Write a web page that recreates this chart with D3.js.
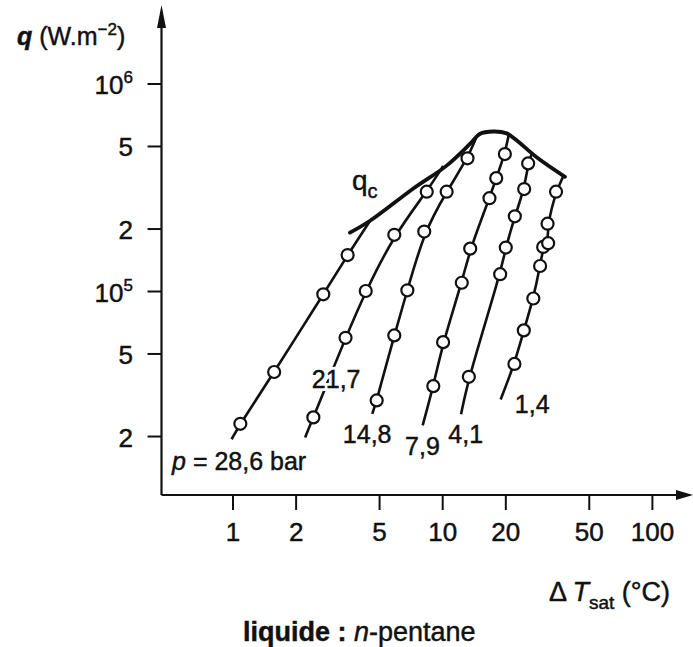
<!DOCTYPE html>
<html>
<head>
<meta charset="utf-8">
<script src="https://cdn.jsdelivr.net/npm/d3@7"></script>
<style>
  html, body { margin: 0; padding: 0; background: #fff; }
  svg { display: block; font-family: "Liberation Sans", Arial, Helvetica, sans-serif; }
  .ink-text { stroke: #111; stroke-width: 0.45px; }
</style>
</head>
<body>
<svg id="chart" width="693" height="647"></svg>
<script>
// ---------------- data ----------------
const xTickValues = [1, 2, 5, 10, 20, 50, 100];
const xTickLabels = ["1", "2", "5", "10", "20", "50", "100"];
const yTickValues = [2e4, 5e4, 1e5, 2e5, 5e5, 1e6];
const yTickMantissa = ["2", "5", "10", "2", "5", "10"];
const yTickExponent = ["", "", "5", "", "", "6"];

const pressureLabels = ["p = 28,6 bar", "21,7", "14,8", "7,9", "4,1", "1,4"];

// measured points (ΔT_sat in °C, q in W/m²)
const dT_28_6 = [1.09, 1.58, 2.71, 3.54];
const q_28_6  = [2.29e4, 4.07e4, 9.64e4, 1.49e5];
const dT_21_7 = [2.43, 3.46, 4.32, 5.91, 8.44];
const q_21_7  = [2.46e4, 5.95e4, 1.0e5, 1.865e5, 3.01e5];
const dT_14_8 = [4.87, 5.91, 6.82, 8.21, 10.5, 13.2];
const q_14_8  = [2.97e4, 6.11e4, 1.008e5, 1.934e5, 3.01e5, 4.36e5];
const dT_7_9  = [9.07, 10.1, 12.4, 13.6, 16.8, 18.1, 19.9];
const q_7_9   = [3.48e4, 5.67e4, 1.096e5, 1.60e5, 2.80e5, 3.50e5, 4.57e5];
const dT_4_1  = [13.4, 18.9, 20.1, 22.2, 24.6, 25.7];
const q_4_1   = [3.86e4, 1.205e5, 1.62e5, 2.29e5, 3.10e5, 4.12e5];
const dT_1_4  = [22.1, 24.5, 27.2, 29.3, 30.3, 32.0, 31.8, 34.9];
const q_1_4   = [4.45e4, 6.46e4, 9.2e4, 1.32e5, 1.63e5, 1.70e5, 2.11e5, 3.01e5];

// ends of the drawn fit lines [start, end]
const fitStart_dT = [0.99, 2.22, 4.64, 8.07, 12.3, 19.0];
const fitStart_q  = [1.93e4, 1.97e4, 2.56e4, 2.25e4, 2.55e4, 3.0e4];
const fitEnd_dT   = [4.53, 10.1, 14.5, 20.8, 26.8, 37.7];
const fitEnd_q    = [2.18e5, 4.0e5, 5.46e5, 5.71e5, 4.62e5, 3.55e5];

// critical heat flux curve q_c
const qc_dT = [3.63, 4.53, 7.26, 10.5, 13.6, 15.1, 17.5, 20.3, 22.7, 28.2, 38.5];
const qc_q  = [1.91e5, 2.18e5, 3.11e5, 4.02e5, 5.13e5, 5.71e5, 5.87e5, 5.75e5, 5.31e5, 4.41e5, 3.55e5];

// label anchors (data coords)
const label_dT = [0.515, 2.39, 3.36, 6.65, 10.7, 22.2];
const label_q  = [1.37e4, 3.41e4, 1.85e4, 1.62e4, 1.85e4, 2.58e4];

// --------------- drawing ---------------
const allDT = [dT_28_6, dT_21_7, dT_14_8, dT_7_9, dT_4_1, dT_1_4];
const allQ  = [q_28_6, q_21_7, q_14_8, q_7_9, q_4_1, q_1_4];

const svg = d3.select("#chart");
svg.append("rect").attr("width", 693).attr("height", 647).attr("fill", "#fff");

const x = d3.scaleLog().domain([1, 100]).range([232.5, 651.9]);
const y = d3.scaleLog().domain([1e5, 1e6]).range([291, 83.5]);

const ink = "#111";
const axisX0 = 161.5, axisY0 = 495;

// axes lines with arrows
svg.append("line").attr("x1", axisX0).attr("y1", axisY0).attr("x2", axisX0).attr("y2", 20)
  .attr("stroke", ink).attr("stroke-width", 2.2);
svg.append("path").attr("d", `M${axisX0},5 L${axisX0 - 4.5},28 L${axisX0 + 4.5},28 Z`).attr("fill", ink);
svg.append("line").attr("x1", axisX0).attr("y1", axisY0).attr("x2", 680).attr("y2", axisY0)
  .attr("stroke", ink).attr("stroke-width", 2.2);
svg.append("path").attr("d", `M693,${axisY0} L676,${axisY0 - 5} L676,${axisY0 + 5} Z`).attr("fill", ink);

// x ticks via d3 axis
const xAxis = d3.axisBottom(x).tickValues(xTickValues).tickSize(15).tickPadding(13)
  .tickFormat((d, i) => xTickLabels[i]);
const gx = svg.append("g").attr("transform", `translate(0,${axisY0})`).call(xAxis);
gx.select(".domain").remove();
gx.selectAll(".tick line").attr("stroke", ink).attr("stroke-width", 2);
gx.selectAll(".tick text").attr("fill", ink).attr("font-size", 26).attr("class", "ink-text")
  .attr("font-family", '"Liberation Sans", Arial, sans-serif');

// y ticks via d3 axis (lines), labels custom
const yAxis = d3.axisLeft(y).tickValues(yTickValues).tickSize(14).tickFormat("");
const gy = svg.append("g").attr("transform", `translate(${axisX0},0)`).call(yAxis);
gy.select(".domain").remove();
gy.selectAll(".tick line").attr("stroke", ink).attr("stroke-width", 2);

yTickValues.forEach((v, i) => {
  const t = svg.append("text").attr("x", 133).attr("y", y(v) + 10.5).attr("class", "ink-text")
    .attr("text-anchor", "end").attr("font-size", 26).attr("fill", ink);
  t.append("tspan").text(yTickMantissa[i]);
  if (yTickExponent[i]) {
    t.append("tspan").attr("dy", -11).attr("font-size", 17).text(yTickExponent[i]);
  }
});

// axis titles
const yt = svg.append("text").attr("x", 17).attr("y", 45).attr("font-size", 25)
  .attr("fill", ink).attr("class", "ink-text");
yt.append("tspan").attr("font-style", "italic").attr("font-weight", "bold").text("q");
yt.append("tspan").text(" (W.m");
yt.append("tspan").attr("dy", -10).attr("font-size", 17).text("−2");
yt.append("tspan").attr("dy", 10).text(")");

const xt = svg.append("text").attr("x", 549).attr("y", 601).attr("font-size", 27)
  .attr("fill", ink).attr("class", "ink-text");
xt.append("tspan").text("Δ\u2009");
xt.append("tspan").attr("font-style", "italic").text("T");
xt.append("tspan").attr("dy", 8).attr("font-size", 19).text("sat");
xt.append("tspan").attr("dy", -8).text(" (°C)");

const cap = svg.append("text").attr("x", 243).attr("y", 641).attr("font-size", 27)
  .attr("fill", ink).attr("class", "ink-text");
cap.append("tspan").attr("font-weight", "bold").text("liquide : ");
cap.append("tspan").attr("font-style", "italic").text("n");
cap.append("tspan").text("-pentane");

// fit lines
const lineGen = d3.line().x(d => x(d[0])).y(d => y(d[1])).curve(d3.curveBasis);
allDT.forEach((dts, i) => {
  const pts = dts.map((d, j) => [d, allQ[i][j]]).sort((a, b) => a[1] - b[1]);
  const path = [[fitStart_dT[i], fitStart_q[i]], [fitStart_dT[i], fitStart_q[i]], ...pts,
                [fitEnd_dT[i], fitEnd_q[i]], [fitEnd_dT[i], fitEnd_q[i]]];
  svg.append("path").attr("d", lineGen(path)).attr("fill", "none")
    .attr("stroke", ink).attr("stroke-width", 2.6);
});

// q_c curve
const qcLine = d3.line().x(d => x(d[0])).y(d => y(d[1])).curve(d3.curveCatmullRom.alpha(0.5));
svg.append("path").attr("d", qcLine(qc_dT.map((d, i) => [d, qc_q[i]])))
  .attr("fill", "none").attr("stroke", ink).attr("stroke-width", 3.8)
  .attr("stroke-linecap", "round").attr("stroke-linejoin", "round");

// circles
allDT.forEach((dts, i) => {
  svg.append("g").selectAll("circle").data(dts.map((d, j) => [d, allQ[i][j]])).join("circle")
    .attr("cx", d => x(d[0])).attr("cy", d => y(d[1])).attr("r", 6)
    .attr("fill", "#fff").attr("stroke", ink).attr("stroke-width", 2.2);
});

// series labels: white halo layer, then ink layer
function writeLabel(sel, lab, i) {
  if (i === 0) {
    sel.append("tspan").attr("font-style", "italic").text("p");
    sel.append("tspan").text(lab.slice(1));
  } else {
    sel.text(lab);
  }
}
pressureLabels.forEach((lab, i) => {
  const halo = svg.append("text").attr("x", x(label_dT[i])).attr("y", y(label_q[i]))
    .attr("font-size", 25).attr("fill", "#fff").attr("stroke", "#fff").attr("stroke-width", 6);
  writeLabel(halo, lab, i);
  const t = svg.append("text").attr("x", x(label_dT[i])).attr("y", y(label_q[i]))
    .attr("font-size", 25).attr("fill", ink).attr("class", "ink-text");
  writeLabel(t, lab, i);
});

// q_c label
const qcl = svg.append("text").attr("x", x(3.71)).attr("y", y(3.07e5)).attr("font-size", 28)
  .attr("fill", ink).attr("class", "ink-text");
qcl.append("tspan").text("q");
qcl.append("tspan").attr("dy", 8).attr("font-size", 20).text("c");
</script>
</body>
</html>
